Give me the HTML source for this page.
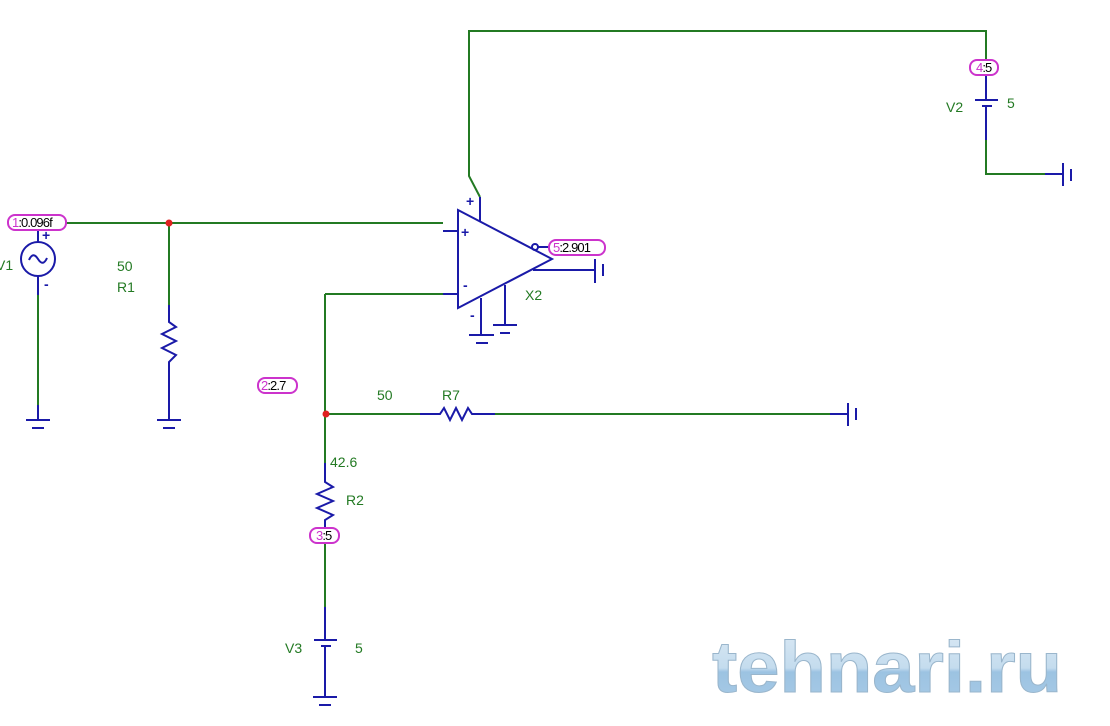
<!DOCTYPE html>
<html><head><meta charset="utf-8"><style>
html,body{margin:0;padding:0;background:#fff;}
svg{display:block;}
text{font-family:"Liberation Sans",sans-serif;}
</style></head><body>
<svg width="1110" height="726" viewBox="0 0 1110 726" xmlns="http://www.w3.org/2000/svg">
<defs>
<linearGradient id="wm" x1="0" y1="0" x2="0" y2="1">
<stop offset="0" stop-color="#dbe9f4"/><stop offset="0.5" stop-color="#c4dcee"/><stop offset="0.55" stop-color="#9cc3e2"/><stop offset="1" stop-color="#a9cbe6"/>
</linearGradient>
</defs>
<g fill="none" stroke-width="2">
<g stroke="#237a23">
<path d="M66 223 H443"/>
<path d="M38 295 V405"/>
<path d="M169 223 V305"/>
<path d="M325 294 H443"/>
<path d="M325 294 V463"/>
<path d="M325 414 H420"/>
<path d="M495 414 H830"/>
<path d="M325 543 V607"/>
<path d="M480 197 L469 176 V31 H986 V60"/>
<path d="M986 140 V174 H1045"/>
</g>
<g stroke="#1a1aa8">
<path d="M38 230 V242"/>
<circle cx="38" cy="259" r="17"/>
<path d="M29 260 Q33 251 38 259 Q43 267 47 258"/>
<path d="M38 276 V295"/>
<path d="M38 405 V420 M26 420 H50 M32 428 H44"/>
<path d="M169 305 V322 L176 327 L162 334 L176 341 L162 348 L176 355 L169 362 V405 M157 420 H181 M163 428 H175 M169 405 V420"/>
<path d="M458 210 L552 259 L458 308 Z"/>
<path d="M443 231 H458 M443 294 H458"/>
<path d="M480 197 V221"/>
<path d="M481 298 V335 M469 335 H494 M476 343 H488"/>
<path d="M505 285 V325 M493 325 H517 M500 333 H510"/>
<circle cx="535" cy="247" r="3"/>
<path d="M538 247 H549"/>
<path d="M533 270 H595 M595 259 V283 M603 264 V276" />
<path d="M420 414 H440 L444 408 L450 420 L456 408 L462 420 L468 408 L472 414 H495"/>
<path d="M830 414 H848 M848 403 V426 M856 408 V420"/>
<path d="M325 463 V482 L333 487 L317 494 L333 501 L317 508 L333 515 L325 520 V528"/>
<path d="M325 607 V640 M314 640 H337 M321 646 H331 M325 646 V697 M313 697 H337 M319 705 H331"/>
<path d="M986 75 V100 M975 100 H998 M982 106 H992 M986 106 V140"/>
<path d="M1045 174 H1063 M1063 163 V186 M1071 169 V181"/>
</g>
<g stroke="#cc33cc">
<rect x="8" y="215" width="58" height="15" rx="7"/>
<rect x="549" y="240" width="56" height="15" rx="7"/>
<rect x="258" y="378" width="39" height="15" rx="7"/>
<rect x="310" y="528" width="29" height="15" rx="7"/>
<rect x="970" y="60" width="28" height="15" rx="7"/>
</g>
</g>
<circle cx="169" cy="223" r="3.5" fill="#e02020"/>
<circle cx="326" cy="414" r="3.5" fill="#e02020"/>
<g font-size="13" letter-spacing="-0.9">
<text x="12" y="227"><tspan fill="#cc33cc">1</tspan>:0.096f</text>
<text x="553" y="252"><tspan fill="#cc33cc">5</tspan>:2.901</text>
<text x="261" y="390"><tspan fill="#cc33cc">2</tspan>:2.7</text>
<text x="316" y="540"><tspan fill="#cc33cc">3</tspan>:5</text>
<text x="976" y="72"><tspan fill="#cc33cc">4</tspan>:5</text>
</g>
<g fill="#237a23" font-size="14">
<text x="117" y="271">50</text>
<text x="117" y="292">R1</text>
<text x="-4" y="270">V1</text>
<text x="525" y="300">X2</text>
<text x="377" y="400">50</text>
<text x="442" y="400">R7</text>
<text x="330" y="467">42.6</text>
<text x="346" y="505">R2</text>
<text x="285" y="653">V3</text>
<text x="355" y="653">5</text>
<text x="946" y="112">V2</text>
<text x="1007" y="108">5</text>
</g>
<g fill="#1a1aa8" font-size="14" font-weight="bold">
<text x="42" y="240">+</text>
<text x="44" y="289">-</text>
<text x="466" y="206">+</text>
<text x="461" y="237">+</text>
<text x="463" y="290">-</text>
<text x="470" y="320">-</text>
</g>
<text x="712" y="692" font-size="72" font-weight="bold" fill="url(#wm)" stroke="#9ab6cc" stroke-width="1" textLength="350" lengthAdjust="spacingAndGlyphs" font-family="Liberation Mono, monospace">tehnari.ru</text>
</svg>
</body></html>
